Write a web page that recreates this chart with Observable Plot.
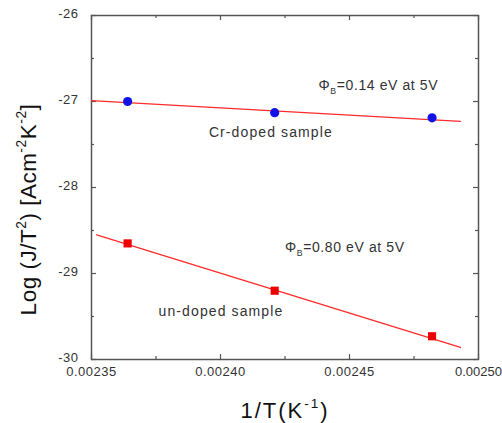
<!DOCTYPE html>
<html><head><meta charset="utf-8">
<script src="https://cdn.jsdelivr.net/npm/d3@7"></script>
<script src="https://cdn.jsdelivr.net/npm/@observablehq/plot@0.6"></script>
<style>
body{margin:0;background:#fff;}
g[aria-label="x-axis tick label"] text, g[aria-label="y-axis tick label"] text {letter-spacing:0.5px;}
g[aria-label="x-axis tick label"] text:last-child {letter-spacing:0px;}
</style>
</head><body><div id="chart"></div>
<script>
// Cr-doped sample (blue circles)
const crX = [0.002364, 0.002421, 0.002482];
const crY = [-27.00, -27.13, -27.19];
// un-doped sample (red squares)
const unX = [0.002364, 0.002421, 0.002482];
const unY = [-28.65, -29.20, -29.73];
// linear fits
const crFitX = [0.00235, 0.002493];
const crFitY = [-26.99, -27.23];
const unFitX = [0.002352, 0.002493];
const unFitY = [-28.55, -29.86];
// ticks
const xTicks = [0.00235, 0.00240, 0.00245, 0.00250];
const xMinor = [0.002375, 0.002425, 0.002475];
const yTicks = [-30, -29, -28, -27, -26];
const yMinor = [-29.5, -28.5, -27.5, -26.5];
const xTickLabels = ["0.00235", "0.00240", "0.00245", "0.00250"];
const yTickLabels = ["-30", "-29", "-28", "-27", "-26"];
// annotations
const phiText = ["Φ{_B}=0.14 eV at 5V", "Φ{_B}=0.80 eV at 5V"];
const phiX = [0.002438, 0.002425];
const phiY = [-26.81, -28.70];
const sampleText = ["Cr-doped sample", "un-doped sample"];
const sampleX = [0.0023955, 0.002376];
const sampleY = [-27.36, -29.44];
const xLabel = "1/T(K{^-1})";
const yLabel = "Log (J/T{^2}) [Acm{^-2}K{^-2}]";

const W = 502, H = 423, mL = 91, mR = 24, mT = 15, mB = 64;
const innerW = W - mL - mR, innerH = H - mT - mB;
const frameColor = "#555";
const majorLen = 5, minorLen = 3;

const plot = Plot.plot({
  width: W, height: H,
  marginLeft: mL, marginRight: mR, marginTop: mT, marginBottom: mB,
  x: {domain: [0.00235, 0.0025]},
  y: {domain: [-30, -26]},
  style: {fontFamily: "'Liberation Sans', Arial, sans-serif", background: "#fff", color: "#333"},
  marks: [
    Plot.frame({stroke: frameColor, strokeWidth: 1.5}),
    Plot.tickX(xTicks, {x: d => d, insetTop: innerH - majorLen, stroke: frameColor, strokeWidth: 1.2}),
    Plot.tickX(xTicks, {x: d => d, insetBottom: innerH - majorLen, stroke: frameColor, strokeWidth: 1.2}),
    Plot.tickX(xMinor, {x: d => d, insetTop: innerH - minorLen, stroke: frameColor, strokeWidth: 1.2}),
    Plot.tickX(xMinor, {x: d => d, insetBottom: innerH - minorLen, stroke: frameColor, strokeWidth: 1.2}),
    Plot.tickY(yTicks, {y: d => d, insetRight: innerW - majorLen, stroke: frameColor, strokeWidth: 1.2}),
    Plot.tickY(yTicks, {y: d => d, insetLeft: innerW - majorLen, stroke: frameColor, strokeWidth: 1.2}),
    Plot.tickY(yMinor, {y: d => d, insetRight: innerW - minorLen, stroke: frameColor, strokeWidth: 1.2}),
    Plot.tickY(yMinor, {y: d => d, insetLeft: innerW - minorLen, stroke: frameColor, strokeWidth: 1.2}),
    Plot.axisX({ticks: xTicks, tickSize: 0, tickPadding: 7, tickFormat: (d, i) => xTickLabels[i], fontSize: 13, label: null, fill: "#333"}),
    Plot.axisY({ticks: yTicks, tickSize: 0, tickPadding: 13, dy: -2, tickFormat: (d, i) => yTickLabels[i], fontSize: 13, label: null, fill: "#333"}),
    Plot.line(crFitX, {x: crFitX, y: crFitY, stroke: "#ff2a2a", strokeWidth: 1.3}),
    Plot.line(unFitX, {x: unFitX, y: unFitY, stroke: "#ff2a2a", strokeWidth: 1.3}),
    Plot.dot(crX, {x: crX, y: crY, r: 4.6, fill: "#1212e6", stroke: "none"}),
    Plot.dot(unX, {x: unX, y: unY, r: 4.6, symbol: "square", fill: "#ee0000", stroke: "none"}),
    Plot.text(phiText, {x: phiX, y: phiY, text: d => d, textAnchor: "start", lineAnchor: "middle", fontSize: 14, fill: "#333"}),
    Plot.text(sampleText, {x: sampleX, y: sampleY, text: d => d, textAnchor: "start", lineAnchor: "middle", fontSize: 14, fill: "#333"}),
    Plot.text([xLabel], {frameAnchor: "bottom", textAnchor: "middle", lineAnchor: "middle", dy: 51, fontSize: 22, fill: "#111", text: d => d}),
    Plot.text([yLabel], {frameAnchor: "left", textAnchor: "middle", lineAnchor: "middle", rotate: -90, dx: -63, dy: 22, fontSize: 22.5, fill: "#111", text: d => d})
  ]
});
document.getElementById("chart").appendChild(plot);

const spacing = new Map([
  [sampleText[0], "1.1px"], [sampleText[1], "1.1px"],
  [phiText[0], "0.6px"], [phiText[1], "0.6px"],
  [xLabel, "2px"], [yLabel, "0.5px"]
]);

// letter spacing, then turn {^..} / {_..} markup into real super/subscript tspans
plot.querySelectorAll("text").forEach(t => {
  const s = t.textContent;
  if (spacing.has(s)) t.style.letterSpacing = spacing.get(s);
  if (!s.includes("{")) return;
  const fs = parseFloat(getComputedStyle(t).fontSize) || 14;
  const parts = s.split(/(\{[\^_][^}]*\})/).filter(p => p.length);
  while (t.firstChild) t.removeChild(t.firstChild);
  let shift = 0;
  const NS = "http://www.w3.org/2000/svg";
  parts.forEach(p => {
    const ts = document.createElementNS(NS, "tspan");
    let target = 0, txt = p, small = false;
    if (p.startsWith("{^")) { target = -0.42 * fs; txt = p.slice(2, -1); small = true; }
    else if (p.startsWith("{_")) { target = 0.3 * fs; txt = p.slice(2, -1); small = true; }
    const d = target - shift;
    if (d !== 0) ts.setAttribute("dy", d);
    shift = target;
    if (small) ts.setAttribute("font-size", (fs * 0.62).toFixed(1));
    ts.textContent = txt;
    t.appendChild(ts);
  });
});
</script>
</body></html>
